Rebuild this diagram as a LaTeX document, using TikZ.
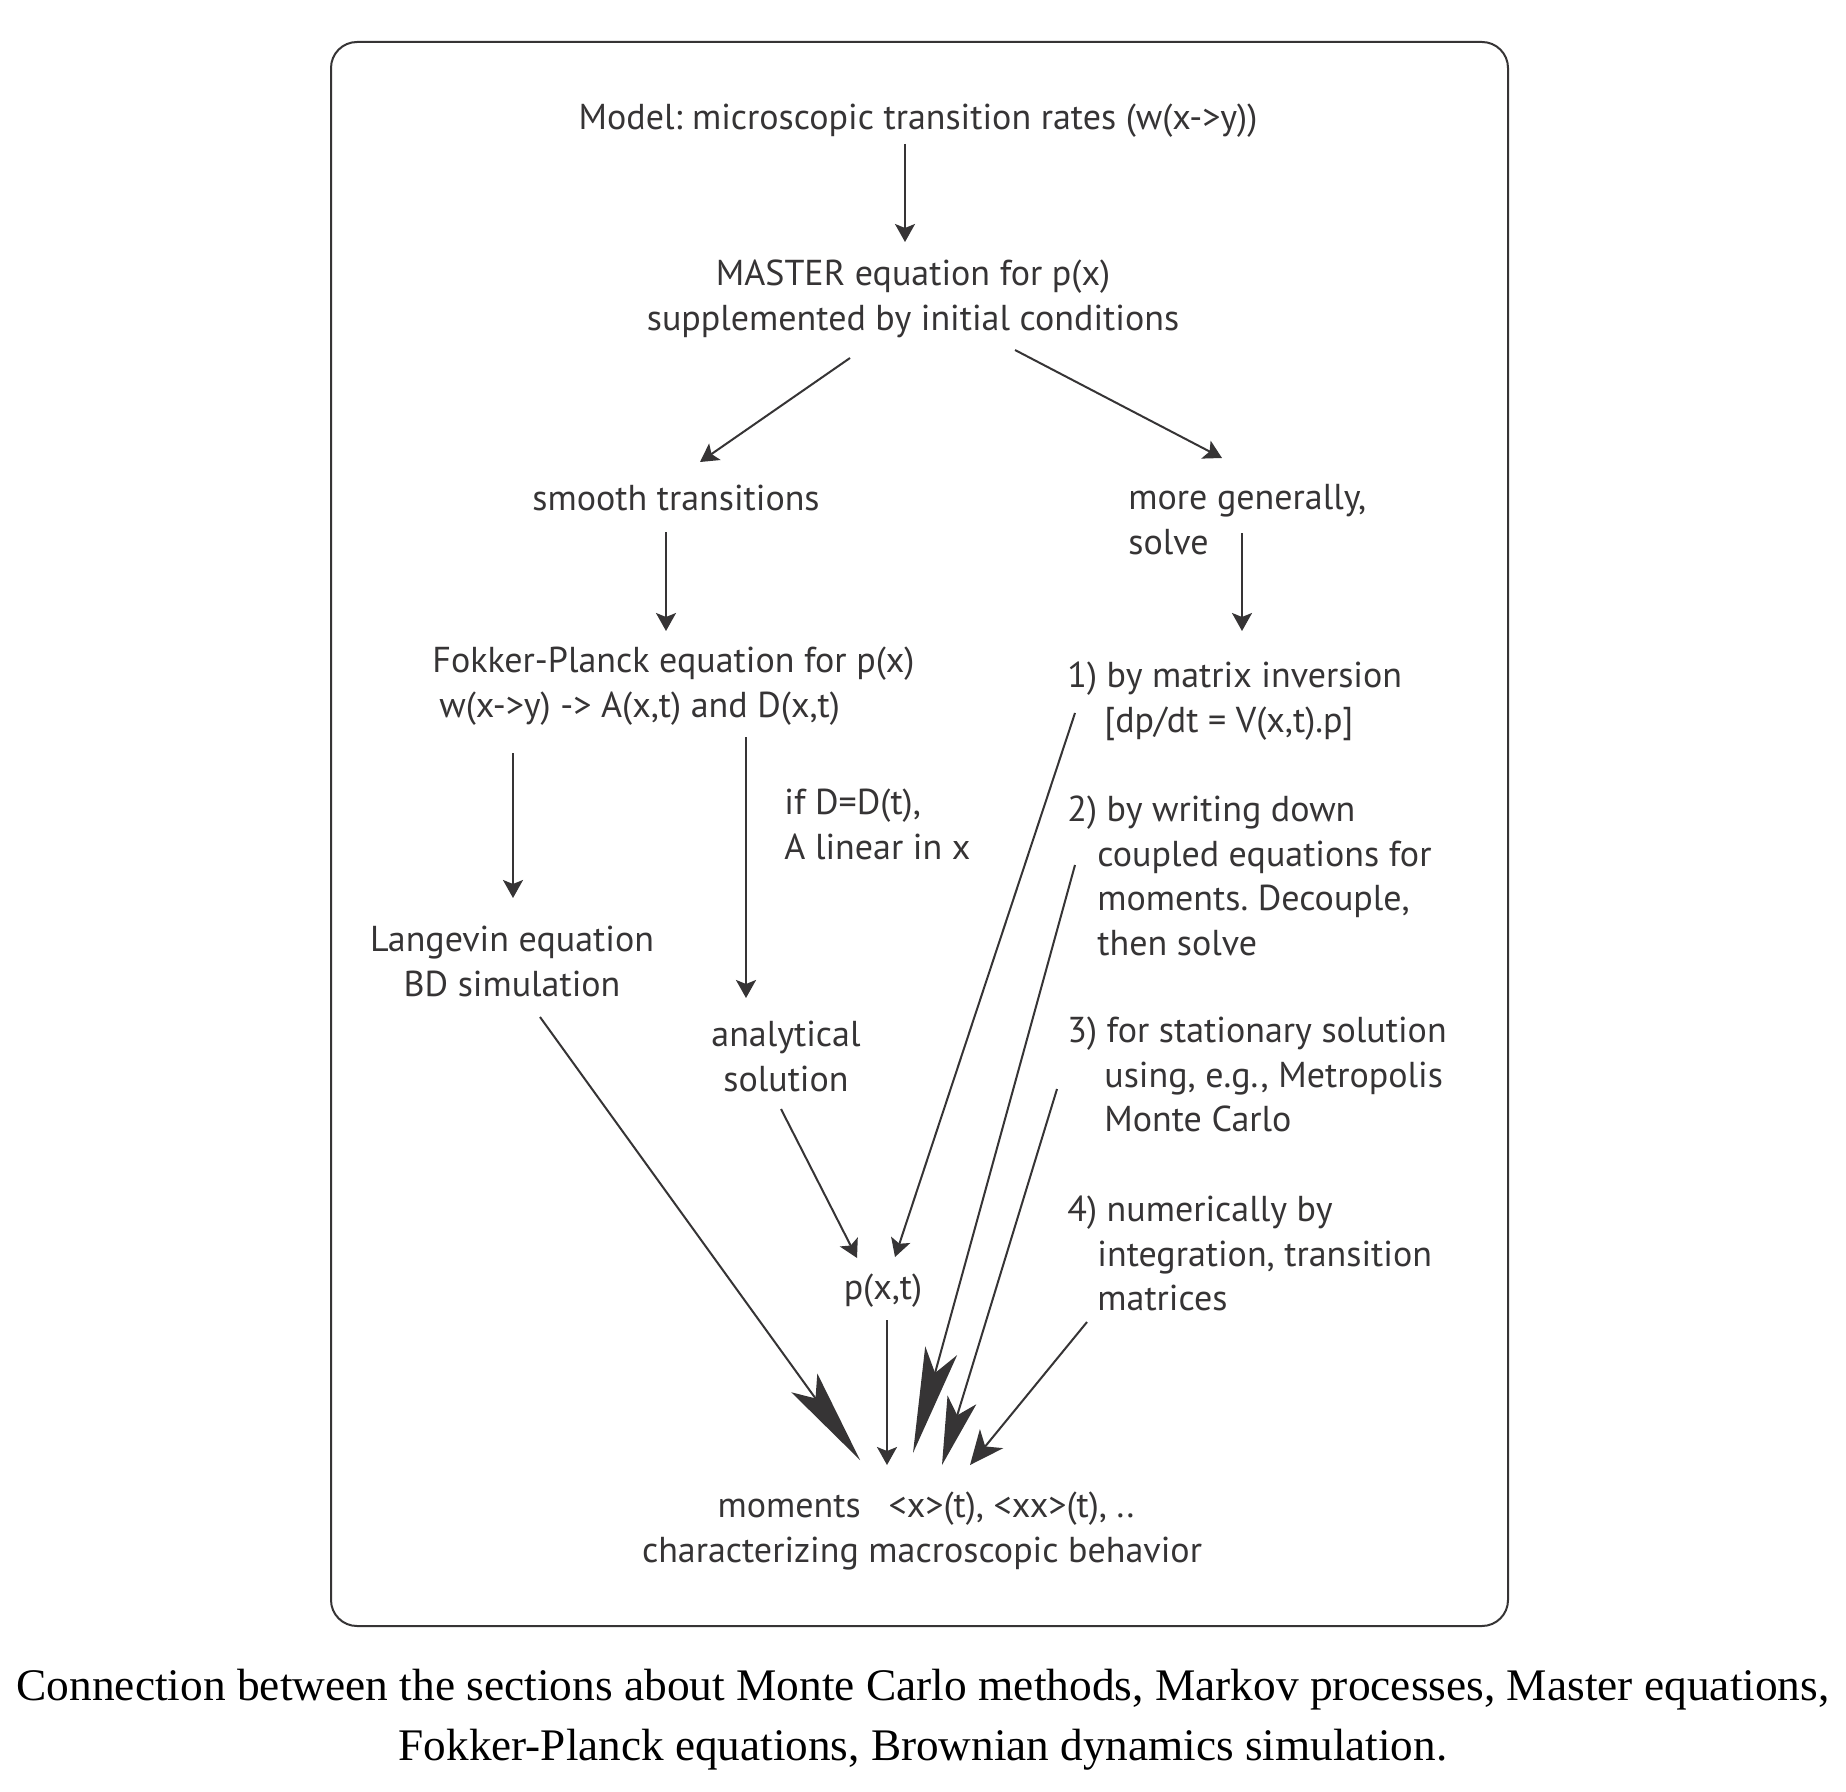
\documentclass[tikz,border=0pt]{standalone}
\usepackage{fontspec}
\setmainfont{PT Sans}
\newfontfamily\capfont{Liberation Serif}
\usetikzlibrary{arrows.meta,calc}
\definecolor{ink}{HTML}{363435}
\frenchspacing
\begin{document}
\begin{tikzpicture}[x=0.5pt,y=-0.5pt,
  txt/.style={inner sep=0pt, text=ink, font=\fontsize{18}{22.35}\selectfont},
  captxt/.style={inner sep=0pt, text=black, font=\capfont\fontsize{22.6}{30}\selectfont},
  arr/.style={draw=ink, line width=1pt, -{Stealth[length=9pt,width=10pt,inset=2pt]}},
  bigA/.style={draw=ink, line width=1pt, -{Stealth[length=47.5pt,width=16pt,inset=9.5pt]}},
  bigB/.style={draw=ink, line width=1pt, -{Stealth[length=53pt,width=16.5pt,inset=11.5pt]}},
  bigC/.style={draw=ink, line width=1pt, -{Stealth[length=34pt,width=15pt,inset=8pt]}},
  bigD/.style={draw=ink, line width=1pt, -{Stealth[length=17pt,width=15pt,inset=5pt]}}]
\useasboundingbox (0,0) rectangle (1846,1792);
\fill[white] (0,0) rectangle (1846,1792);
\draw[ink, line width=1pt, rounded corners=13pt] (331,42) rectangle (1508,1626);

\node[txt, anchor=base] (model) at (918,129.5) {Model: microscopic transition rates (w(x->y))};
\node[txt, anchor=base, align=center] (master) at (913,330.2) {MASTER equation for p(x)\\supplemented by initial conditions};
\node[txt, anchor=base] (smooth) at (676,510.5) {smooth transitions};
\node[txt, anchor=base west, align=left] (general) at (1128,554.2) {more generally,\\solve};
\node[txt, anchor=base west, align=left] (fp) at (432,717.2) {Fokker-Planck equation for p(x)\\\hspace*{3.5pt}w(x->y) -> A(x,t) and D(x,t)};
\node[txt, anchor=base west, align=left] (m1) at (1067,732.2) {1) by matrix inversion\\\hspace*{18.5pt}[dp/dt = V(x,t).p]};
\node[txt, anchor=base west, align=left] (ifd) at (784,859.2) {if D=D(t),\\A linear in x};
\node[txt, anchor=base west, align=left] (m2) at (1067,955.6) {2) by writing down\\\hspace*{15pt}coupled equations for\\\hspace*{15pt}moments. Decouple,\\\hspace*{15pt}then solve};
\node[txt, anchor=base, align=center] (lang) at (512,996.2) {Langevin equation\\BD simulation};
\node[txt, anchor=base, align=center] (anal) at (786,1091.2) {analytical\\solution};
\node[txt, anchor=base west, align=left] (m3) at (1067,1131.9) {3) for stationary solution\\\hspace*{18.5pt}using, e.g., Metropolis\\\hspace*{18.5pt}Monte Carlo};
\node[txt, anchor=base west, align=left] (m4) at (1067,1310.9) {4) numerically by\\\hspace*{15pt}integration, transition\\\hspace*{15pt}matrices};
\node[txt, anchor=base] (pxt) at (883,1299.5) {p(x,t)};
\node[txt, anchor=base, align=center] (mom) at (922,1562.2) {\hspace*{4pt}moments\hspace{14pt}<x>(t), <xx>(t), ..\\characterizing macroscopic behavior};
\node[captxt, anchor=base, align=center] (caption) at (923,1760) {\resizebox{906.5pt}{\height}{Connection between the sections about Monte Carlo methods, Markov processes, Master equations,}\\Fokker-Planck equations, Brownian dynamics simulation.};

\draw[arr] ($(model.base)+(-13,14.5)$) -- ($(master.base)+(-8,-88.2)$);
\draw[arr] ($(master.base)+(-63,27.8)$) -- ($(smooth.base)+(24,-48.5)$);
\draw[arr] ($(master.base)+(102,19.8)$) -- ($(general.base west)+(94,-96.2)$);
\draw[arr] ($(smooth.base)+(-10,21.5)$) -- ($(fp.base west)+(234,-86.2)$);
\draw[arr] ($(general.base west)+(114,-21.2)$) -- ($(m1.base west)+(175,-101.2)$);
\draw[arr] ($(fp.base west)+(81,35.8)$) -- ($(lang.base)+(1,-98.2)$);
\draw[arr] ($(fp.base west)+(314,19.8)$) -- ($(anal.base)+(-40,-93.2)$);
\draw[arr] ($(anal.base)+(-5,17.8)$) -- ($(pxt.base)+(-26,-41.5)$);
\draw[arr] ($(m1.base west)+(8,-19.2)$) -- ($(pxt.base)+(12,-42.5)$);
\draw[bigA] ($(lang.base)+(28,20.8)$) -- ($(mom.base)+(-62,-102.2)$);
\draw[arr] ($(pxt.base)+(4,20.5)$) -- ($(mom.base)+(-35,-97.2)$);
\draw[bigB] ($(m2.base west)+(8,-90.6)$) -- ($(mom.base)+(-9,-109.2)$);
\draw[bigC] ($(m3.base west)+(-10,-42.9)$) -- ($(mom.base)+(20,-97.2)$);
\draw[bigD] ($(m4.base west)+(20,11.1)$) -- ($(mom.base)+(48,-97.2)$);
\end{tikzpicture}
\end{document}
